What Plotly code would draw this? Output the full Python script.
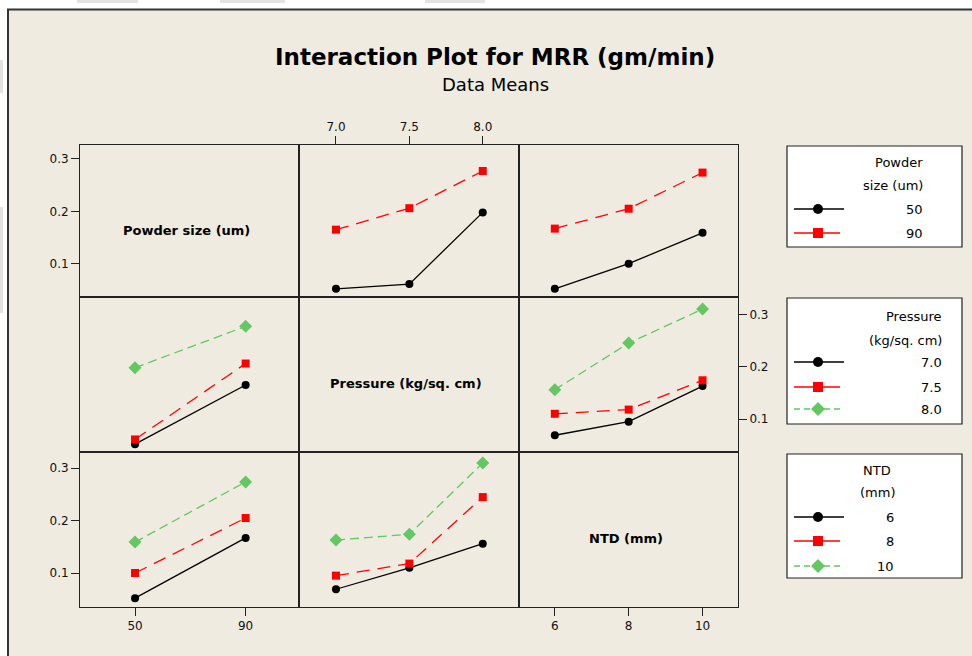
import plotly.graph_objects as go

W, H = 972, 656

# ---------------- data ----------------
factor_names = ["Powder size (um)", "Pressure (kg/sq. cm)", "NTD (mm)"]
powder_levels = [50, 90]
pressure_levels = [7.0, 7.5, 8.0]
ntd_levels = [6, 8, 10]
powder_ticktext = ["50", "90"]
pressure_ticktext = ["7.0", "7.5", "8.0"]
ntd_ticktext = ["6", "8", "10"]
mrr_ticks = [0.1, 0.2, 0.3]
mrr_ticktext = ["0.1", "0.2", "0.3"]

# two-way data means of MRR (gm/min)
# rows: powder 50, 90 ; columns: pressure 7.0, 7.5, 8.0
mrr_powder_by_pressure = [[0.052, 0.061, 0.198],
                          [0.165, 0.206, 0.277]]
# rows: powder 50, 90 ; columns: NTD 6, 8, 10
mrr_powder_by_ntd = [[0.052, 0.100, 0.159],
                     [0.167, 0.205, 0.274]]
# rows: pressure 7.0, 7.5, 8.0 ; columns: NTD 6, 8, 10
mrr_pressure_by_ntd = [[0.069, 0.095, 0.163],
                       [0.110, 0.118, 0.174],
                       [0.156, 0.245, 0.310]]

# ---------------- helpers ----------------
def px(x):
    return x / W

def py(y):
    return 1 - y / H

FONT = "DejaVu Sans"
BEIGE = "#EFEBE1"
LINE = "#222222"
styles = [
    dict(color="#000000", dash="solid", symbol="circle", size=8),
    dict(color="#FF0000", dash="13px,8px", symbol="square", size=8),
    dict(color="#62C862", dash="9px,5px", symbol="diamond", size=10),
]

col_px = [(80, 299), (299, 519), (519, 738)]
row_px = [(145, 297), (297, 452), (452, 607)]
xranges = [[30.1, 109.3], [6.748, 8.247], [5.03, 10.96]]
yranges = [[0.0364, 0.3267], [0.0370, 0.3331], [0.0351, 0.3311]]
xlevels = [powder_levels, pressure_levels, ntd_levels]
xticktexts = [powder_ticktext, pressure_ticktext, ntd_ticktext]

# series per panel: (row=line factor, col=x factor) -> list of y lists
panel_series = {
    (0, 1): mrr_powder_by_pressure,
    (0, 2): mrr_powder_by_ntd,
    (1, 0): [[row[j] for row in mrr_powder_by_pressure] for j in range(len(pressure_levels))],
    (1, 2): mrr_pressure_by_ntd,
    (2, 0): [[row[k] for row in mrr_powder_by_ntd] for k in range(len(ntd_levels))],
    (2, 1): [[row[k] for row in mrr_pressure_by_ntd] for k in range(len(ntd_levels))],
}

fig = go.Figure()
layout = {}
shapes = []
annotations = []

tickfont = dict(family=FONT, size=12, color="#111111")

for r in range(3):
    for c in range(3):
        n = r * 3 + c + 1
        xname = "xaxis" if n == 1 else f"xaxis{n}"
        yname = "yaxis" if n == 1 else f"yaxis{n}"
        xref = "x" if n == 1 else f"x{n}"
        yref = "y" if n == 1 else f"y{n}"
        xa = dict(domain=[px(col_px[c][0]), px(col_px[c][1])], range=xranges[c],
                  anchor=yref, showline=True, mirror=True, linecolor=LINE, linewidth=1,
                  showgrid=False, zeroline=False, ticks="", showticklabels=False,
                  fixedrange=True, tickfont=tickfont, ticklen=8, tickcolor=LINE, tickwidth=1)
        ya = dict(domain=[py(row_px[r][1]), py(row_px[r][0])], range=yranges[r],
                  anchor=xref, showline=True, mirror=True, linecolor=LINE, linewidth=1,
                  showgrid=False, zeroline=False, ticks="", showticklabels=False,
                  fixedrange=True, tickfont=tickfont, ticklen=8, tickcolor=LINE, tickwidth=1)
        if (r, c) == (0, 1):
            xa.update(side="top", ticks="outside", showticklabels=True,
                      tickvals=xlevels[c], ticktext=xticktexts[c])
        if r == 2 and c in (0, 2):
            xa.update(side="bottom", ticks="outside", showticklabels=True,
                      tickvals=xlevels[c], ticktext=xticktexts[c])
        if (r, c) in [(0, 0), (2, 0)]:
            ya.update(side="left", ticks="outside", showticklabels=True,
                      tickvals=mrr_ticks, ticktext=mrr_ticktext)
        if (r, c) == (1, 2):
            ya.update(side="right", ticks="outside", showticklabels=True,
                      tickvals=mrr_ticks, ticktext=mrr_ticktext)
        layout[xname] = xa
        layout[yname] = ya

        if r == c:
            # empty trace so that the subplot (axes, ticks, frame) is created
            fig.add_trace(go.Scatter(x=[None], y=[None], xaxis=xref, yaxis=yref,
                                     mode="markers", showlegend=False, hoverinfo="skip"))
            shapes.append(dict(type="rect", xref=f"{xref} domain", yref=f"{yref} domain",
                               x0=0, x1=1, y0=0, y1=1, fillcolor=BEIGE,
                               line=dict(width=0), layer="below"))
            cx = (col_px[c][0] + col_px[c][1]) / 2 - 3
            cy = (row_px[r][0] + row_px[r][1]) / 2 + 9
            annotations.append(dict(x=px(cx), y=py(cy), xref="paper", yref="paper",
                                    text=f"<b>{factor_names[r]}</b>", showarrow=False,
                                    font=dict(family=FONT, size=13, color="#000"),
                                    xanchor="center", yanchor="middle"))
        else:
            for i, yvals in enumerate(panel_series[(r, c)]):
                s = styles[i]
                fig.add_trace(go.Scatter(
                    x=xlevels[c], y=yvals, xaxis=xref, yaxis=yref,
                    mode="lines+markers", showlegend=False, hoverinfo="skip",
                    line=dict(color=s["color"], dash=s["dash"], width=1.3),
                    marker=dict(color=s["color"], symbol=s["symbol"], size=s["size"],
                                line=dict(width=0)),
                ))

# ---------------- frame / background decorations ----------------
bg_shapes = [
    dict(type="rect", xref="paper", yref="paper", x0=px(8), x1=1.02, y0=-0.02, y1=py(9.5),
         fillcolor=BEIGE, line=dict(color="#333333", width=2), layer="below"),
]
for (a, b) in [(77, 138), (220, 285), (425, 485)]:
    bg_shapes.append(dict(type="rect", xref="paper", yref="paper", x0=px(a), x1=px(b),
                          y0=py(3), y1=py(0), fillcolor="#E2E2E2", line=dict(width=0),
                          layer="below"))
for (a, b) in [(60, 93), (207, 313)]:
    bg_shapes.append(dict(type="rect", xref="paper", yref="paper", x0=px(0), x1=px(3),
                          y0=py(b), y1=py(a), fillcolor="#E2E2E2", line=dict(width=0),
                          layer="below"))

# ---------------- legends ----------------
legend_boxes = [
    dict(box=(787, 146, 962, 247), title=["Powder", "size (um)"], title_y=[162, 186],
         title_x=925, title_anchor="right", labels=powder_ticktext, label_y=[209, 233],
         label_x=925),
    dict(box=(787, 298, 962, 424), title=["Pressure", "(kg/sq. cm)"], title_y=[316, 340],
         title_x=944, title_anchor="right", labels=pressure_ticktext,
         label_y=[362, 387, 409], label_x=944),
    dict(box=(787, 454, 962, 578), title=["NTD", "(mm)"], title_y=[470, 493],
         title_x=877, title_anchor="center", labels=ntd_ticktext,
         label_y=[517, 541, 566], label_x=896),
]
leg_shapes = []
legfont = dict(family=FONT, size=13, color="#000")
for lg in legend_boxes:
    x0, y0, x1, y1 = lg["box"]
    leg_shapes.append(dict(type="rect", xref="paper", yref="paper", x0=px(x0), x1=px(x1),
                           y0=py(y1), y1=py(y0), fillcolor="white",
                           line=dict(color=LINE, width=1.2), layer="above"))
    for t, ty in zip(lg["title"], lg["title_y"]):
        annotations.append(dict(x=px(lg["title_x"]), y=py(ty), xref="paper", yref="paper",
                                text=t, showarrow=False, font=legfont,
                                xanchor=lg["title_anchor"], yanchor="middle"))
    for i, (lab, ly) in enumerate(zip(lg["labels"], lg["label_y"])):
        s = styles[i]
        annotations.append(dict(x=px(lg["label_x"]), y=py(ly), xref="paper", yref="paper",
                                text=lab, showarrow=False, font=legfont,
                                xanchor="right", yanchor="middle"))
        lx1 = 840 if i == 1 else 844
        ldash = "solid" if i < 2 else "6px,4px"
        leg_shapes.append(dict(type="line", xref="paper", yref="paper", x0=px(794), x1=px(lx1),
                               y0=py(ly), y1=py(ly), line=dict(color=s["color"], width=1.3,
                                                               dash=ldash), layer="above"))
        mx = 818
        if s["symbol"] == "circle":
            rr = 5
            leg_shapes.append(dict(type="circle", xref="paper", yref="paper",
                                   x0=px(mx - rr), x1=px(mx + rr), y0=py(ly + rr), y1=py(ly - rr),
                                   fillcolor=s["color"], line=dict(width=0), layer="above"))
        elif s["symbol"] == "square":
            rr = 5
            leg_shapes.append(dict(type="rect", xref="paper", yref="paper",
                                   x0=px(mx - rr), x1=px(mx + rr), y0=py(ly + rr), y1=py(ly - rr),
                                   fillcolor=s["color"], line=dict(width=0), layer="above"))
        else:
            rr = 7
            path = (f"M {px(mx)} {py(ly - rr)} L {px(mx + rr)} {py(ly)} "
                    f"L {px(mx)} {py(ly + rr)} L {px(mx - rr)} {py(ly)} Z")
            leg_shapes.append(dict(type="path", xref="paper", yref="paper", path=path,
                                   fillcolor=s["color"], line=dict(width=0), layer="above"))

# ---------------- titles ----------------
annotations.append(dict(x=px(495), y=py(57), xref="paper", yref="paper",
                        text="<b>Interaction Plot for MRR (gm/min)</b>", showarrow=False,
                        font=dict(family=FONT, size=23, color="#000"),
                        xanchor="center", yanchor="middle"))
annotations.append(dict(x=px(495), y=py(84), xref="paper", yref="paper",
                        text="Data Means", showarrow=False,
                        font=dict(family=FONT, size=18, color="#000"),
                        xanchor="center", yanchor="middle"))

fig.update_layout(
    width=W, height=H, autosize=False,
    margin=dict(l=0, r=0, t=0, b=0, pad=0),
    paper_bgcolor="white", plot_bgcolor="white",
    showlegend=False,
    shapes=bg_shapes + shapes + leg_shapes,
    annotations=annotations,
    **layout,
)

fig.write_html("out.html", config={"displayModeBar": False},
               post_script="document.body.style.margin='0';document.body.style.overflow='hidden';")
